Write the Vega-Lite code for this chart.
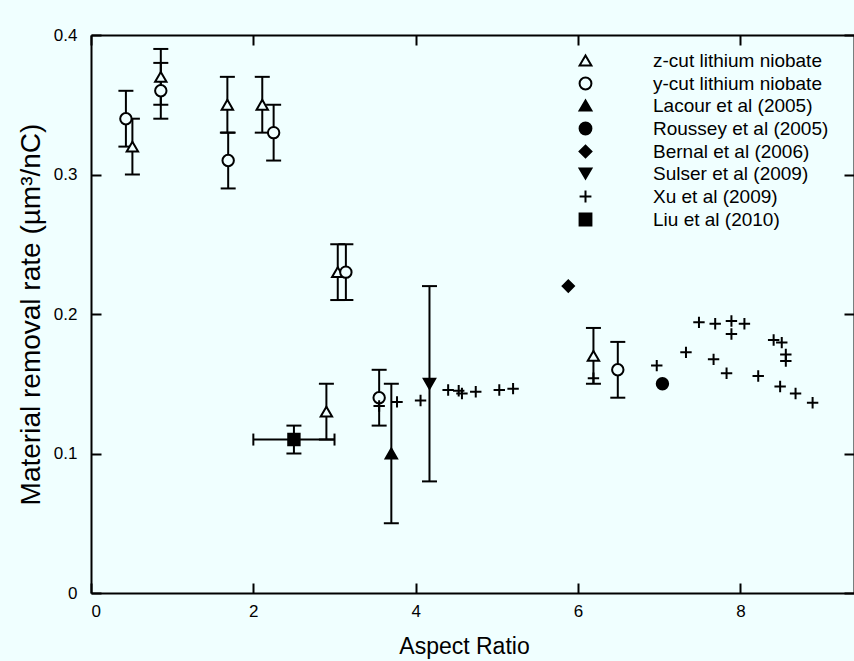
{
  "$schema": "https://vega.github.io/schema/vega-lite/v6.json",
  "width": 763,
  "height": 558,
  "autosize": {"type": "none"},
  "padding": {"left": 91, "top": 35, "right": 0, "bottom": 68},
  "background": "#F0FFFF",
  "config": {
    "font": "Liberation Sans",
    "view": {"stroke": null},
    "axis": {
      "grid": false,
      "domainColor": "black",
      "domainWidth": 2,
      "tickColor": "black",
      "tickWidth": 2,
      "tickSize": -10,
      "labelFont": "Liberation Sans",
      "labelFontSize": 17,
      "labelColor": "black",
      "titleFont": "Liberation Sans",
      "titleFontSize": 25,
      "titleFontWeight": "normal",
      "titleColor": "black"
    },
    "legend": {
      "labelFont": "Liberation Sans",
      "labelFontSize": 19,
      "labelColor": "black",
      "labelLimit": 400,
      "symbolStrokeColor": "black",
      "symbolStrokeWidth": 2,
      "symbolSize": 140
    }
  },
  "data": {
    "values": [
      {"series": "z-cut lithium niobate", "x": 0.51, "y": 0.32, "ylo": 0.30, "yhi": 0.34},
      {"series": "z-cut lithium niobate", "x": 0.86, "y": 0.37, "ylo": 0.35, "yhi": 0.39},
      {"series": "z-cut lithium niobate", "x": 1.68, "y": 0.35, "ylo": 0.33, "yhi": 0.37},
      {"series": "z-cut lithium niobate", "x": 2.11, "y": 0.35, "ylo": 0.33, "yhi": 0.37},
      {"series": "z-cut lithium niobate", "x": 3.04, "y": 0.23, "ylo": 0.21, "yhi": 0.25},
      {"series": "z-cut lithium niobate", "x": 2.90, "y": 0.13, "ylo": 0.11, "yhi": 0.15},
      {"series": "z-cut lithium niobate", "x": 6.19, "y": 0.17, "ylo": 0.15, "yhi": 0.19},
      {"series": "y-cut lithium niobate", "x": 0.43, "y": 0.34, "ylo": 0.32, "yhi": 0.36},
      {"series": "y-cut lithium niobate", "x": 0.86, "y": 0.36, "ylo": 0.34, "yhi": 0.38},
      {"series": "y-cut lithium niobate", "x": 1.69, "y": 0.31, "ylo": 0.29, "yhi": 0.33},
      {"series": "y-cut lithium niobate", "x": 2.25, "y": 0.33, "ylo": 0.31, "yhi": 0.35},
      {"series": "y-cut lithium niobate", "x": 3.14, "y": 0.23, "ylo": 0.21, "yhi": 0.25},
      {"series": "y-cut lithium niobate", "x": 3.55, "y": 0.14, "ylo": 0.12, "yhi": 0.16},
      {"series": "y-cut lithium niobate", "x": 6.49, "y": 0.16, "ylo": 0.14, "yhi": 0.18},
      {"series": "Lacour et al (2005)", "x": 3.70, "y": 0.10, "ylo": 0.05, "yhi": 0.15},
      {"series": "Roussey et al (2005)", "x": 7.04, "y": 0.15},
      {"series": "Bernal et al (2006)", "x": 5.88, "y": 0.22},
      {"series": "Sulser et al (2009)", "x": 4.17, "y": 0.15, "ylo": 0.08, "yhi": 0.22},
      {"series": "Xu et al (2009)", "x": 3.55, "y": 0.134},
      {"series": "Xu et al (2009)", "x": 3.77, "y": 0.137},
      {"series": "Xu et al (2009)", "x": 4.06, "y": 0.138},
      {"series": "Xu et al (2009)", "x": 4.40, "y": 0.1455},
      {"series": "Xu et al (2009)", "x": 4.53, "y": 0.145},
      {"series": "Xu et al (2009)", "x": 4.57, "y": 0.143},
      {"series": "Xu et al (2009)", "x": 4.74, "y": 0.1443},
      {"series": "Xu et al (2009)", "x": 5.03, "y": 0.1455},
      {"series": "Xu et al (2009)", "x": 5.20, "y": 0.1465},
      {"series": "Xu et al (2009)", "x": 6.19, "y": 0.154},
      {"series": "Xu et al (2009)", "x": 6.97, "y": 0.163},
      {"series": "Xu et al (2009)", "x": 7.33, "y": 0.1725},
      {"series": "Xu et al (2009)", "x": 7.49, "y": 0.194},
      {"series": "Xu et al (2009)", "x": 7.69, "y": 0.193},
      {"series": "Xu et al (2009)", "x": 7.89, "y": 0.195},
      {"series": "Xu et al (2009)", "x": 7.89, "y": 0.1857},
      {"series": "Xu et al (2009)", "x": 8.05, "y": 0.193},
      {"series": "Xu et al (2009)", "x": 7.67, "y": 0.1675},
      {"series": "Xu et al (2009)", "x": 7.83, "y": 0.1575},
      {"series": "Xu et al (2009)", "x": 8.22, "y": 0.1556},
      {"series": "Xu et al (2009)", "x": 8.41, "y": 0.1814},
      {"series": "Xu et al (2009)", "x": 8.51, "y": 0.1795},
      {"series": "Xu et al (2009)", "x": 8.56, "y": 0.171},
      {"series": "Xu et al (2009)", "x": 8.56, "y": 0.1663},
      {"series": "Xu et al (2009)", "x": 8.49, "y": 0.148},
      {"series": "Xu et al (2009)", "x": 8.68, "y": 0.143},
      {"series": "Xu et al (2009)", "x": 8.89, "y": 0.1364},
      {"series": "Liu et al (2010)", "x": 2.50, "y": 0.11, "ylo": 0.10, "yhi": 0.12, "xlo": 2.0, "xhi": 3.0}
    ]
  },
  "resolve": {"axis": {"x": "independent", "y": "independent"}},
  "layer": [
    {
      "transform": [{"filter": "isValid(datum.ylo)"}],
      "mark": {"type": "rule", "strokeWidth": 2, "color": "black"},
      "encoding": {
        "x": {"field": "x", "type": "quantitative", "scale": {"domain": [0, 9.4], "nice": false, "zero": true},
              "axis": {"orient": "bottom", "values": [0, 2, 4, 6, 8], "title": "Aspect Ratio", "titleFontSize": 23, "labelPadding": 20, "titlePadding": 16, "titleX": 373}},
        "y": {"field": "ylo", "type": "quantitative", "scale": {"domain": [0, 0.4], "nice": false},
              "axis": {"orient": "left", "values": [0, 0.1, 0.2, 0.3, 0.4], "format": "~g", "title": "Material removal rate (µm³/nC)", "titleFontSize": 28, "labelPadding": 24, "titlePadding": 8}},
        "y2": {"field": "yhi"}
      }
    },
    {
      "transform": [{"filter": "isValid(datum.ylo)"}],
      "mark": {"type": "tick", "orient": "horizontal", "size": 15, "thickness": 2, "color": "black", "opacity": 1},
      "encoding": {
        "x": {"field": "x", "type": "quantitative", "axis": {"orient": "top", "values": [0, 2, 4, 6, 8], "labels": false, "title": null}},
        "y": {"field": "ylo", "type": "quantitative", "axis": {"orient": "right", "values": [0, 0.1, 0.2, 0.3, 0.4], "labels": false, "title": null}}
      }
    },
    {
      "transform": [{"filter": "isValid(datum.yhi)"}],
      "mark": {"type": "tick", "orient": "horizontal", "size": 15, "thickness": 2, "color": "black", "opacity": 1},
      "encoding": {
        "x": {"field": "x", "type": "quantitative", "axis": null},
        "y": {"field": "yhi", "type": "quantitative", "axis": null}
      }
    },
    {
      "transform": [{"filter": "isValid(datum.xlo)"}],
      "mark": {"type": "rule", "strokeWidth": 2, "color": "black"},
      "encoding": {
        "x": {"field": "xlo", "type": "quantitative", "axis": null},
        "x2": {"field": "xhi"},
        "y": {"field": "y", "type": "quantitative", "axis": null}
      }
    },
    {
      "transform": [{"filter": "isValid(datum.xlo)"}],
      "mark": {"type": "tick", "orient": "vertical", "size": 12, "thickness": 2, "color": "black", "opacity": 1},
      "encoding": {
        "x": {"field": "xlo", "type": "quantitative", "axis": null},
        "y": {"field": "y", "type": "quantitative", "axis": null}
      }
    },
    {
      "transform": [{"filter": "isValid(datum.xhi)"}],
      "mark": {"type": "tick", "orient": "vertical", "size": 12, "thickness": 2, "color": "black", "opacity": 1},
      "encoding": {
        "x": {"field": "xhi", "type": "quantitative", "axis": null},
        "y": {"field": "y", "type": "quantitative", "axis": null}
      }
    },
    {
      "mark": {"type": "point", "filled": true, "strokeWidth": 2, "opacity": 1, "size": 130},
      "encoding": {
        "x": {"field": "x", "type": "quantitative", "axis": null},
        "y": {"field": "y", "type": "quantitative", "axis": null},
        "shape": {
          "field": "series", "type": "nominal",
          "scale": {
            "domain": ["z-cut lithium niobate", "y-cut lithium niobate", "Lacour et al (2005)", "Roussey et al (2005)", "Bernal et al (2006)", "Sulser et al (2009)", "Xu et al (2009)", "Liu et al (2010)"],
            "range": ["triangle-up", "circle", "triangle-up", "circle", "diamond", "triangle-down", "M-1,0H1M0,-1V1", "square"]
          },
          "legend": {"title": null, "orient": "none", "legendX": 485, "legendY": 16, "padding": 0, "labelOffset": 58, "rowPadding": 2, "symbolStrokeWidth": 2, "symbolSize": 140}
        },
        "fill": {
          "field": "series", "type": "nominal",
          "scale": {
            "domain": ["z-cut lithium niobate", "y-cut lithium niobate", "Lacour et al (2005)", "Roussey et al (2005)", "Bernal et al (2006)", "Sulser et al (2009)", "Xu et al (2009)", "Liu et al (2010)"],
            "range": ["#F0FFFF", "#F0FFFF", "black", "black", "black", "black", "transparent", "black"]
          },
          "legend": {"title": null, "orient": "none", "legendX": 485, "legendY": 16, "padding": 0, "labelOffset": 58, "rowPadding": 2, "symbolStrokeWidth": 2, "symbolSize": 140}
        },
        "stroke": {
          "field": "series", "type": "nominal",
          "scale": {
            "domain": ["z-cut lithium niobate", "y-cut lithium niobate", "Lacour et al (2005)", "Roussey et al (2005)", "Bernal et al (2006)", "Sulser et al (2009)", "Xu et al (2009)", "Liu et al (2010)"],
            "range": ["black", "black", "black", "black", "black", "black", "black", "black"]
          },
          "legend": {"title": null, "orient": "none", "legendX": 485, "legendY": 16, "padding": 0, "labelOffset": 58, "rowPadding": 2, "symbolStrokeWidth": 2, "symbolSize": 140}
        }
      }
    }
  ]
}
